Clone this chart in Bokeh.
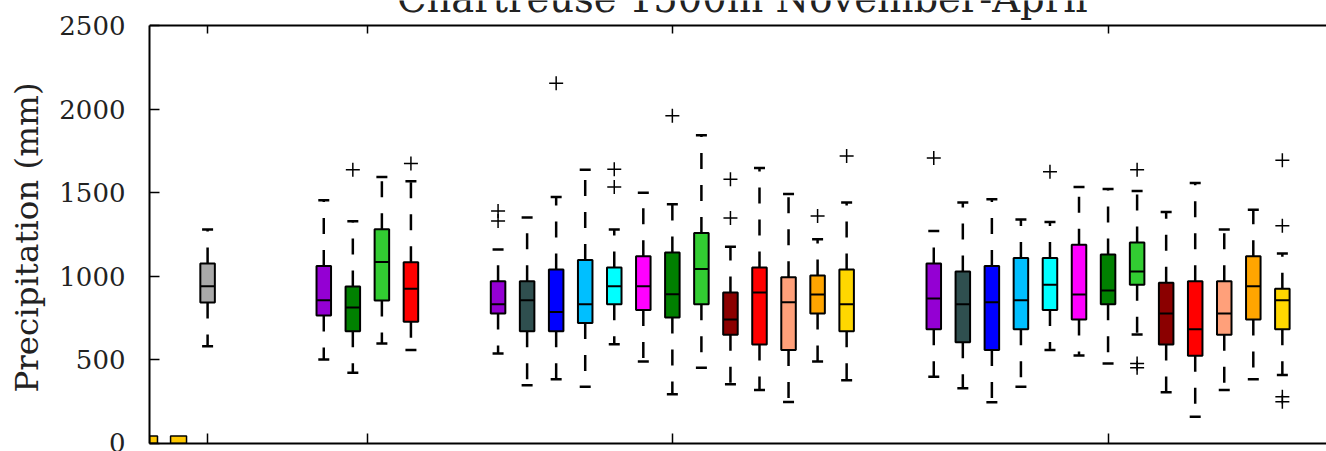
import numpy as np
from bokeh.plotting import figure
from bokeh.models import Range1d, LinearAxis, FixedTicker, Label, CustomLabelingPolicy
from bokeh.embed import file_html
from bokeh.resources import INLINE

title_text = "Chartreuse 1500m November-April"
y_label = "Precipitation (mm)"

positions = [2, 6, 7, 8, 9,
             12, 13, 14, 15, 16, 17, 18, 19, 20, 21, 22, 23, 24,
             27, 28, 29, 30, 31, 32, 33, 34, 35, 36, 37, 38, 39]
group_colors = ["darkviolet", "darkslategray", "blue", "deepskyblue", "cyan",
                "magenta", "green", "limegreen", "darkred", "red",
                "lightsalmon", "orange", "gold"]
colors = ["darkgray", "darkviolet", "green", "limegreen", "red"] + group_colors + group_colors

lower = [582, 503, 423, 598, 559,
         539, 349, 385, 339, 594, 491, 294, 453, 354, 320, 248, 491, 379,
         399, 330, 246, 339, 559, 527, 479, 652, 306, 160, 320, 385, 409]
q1 = [843, 766, 672, 855, 728,
      778, 672, 672, 720, 833, 799, 754, 833, 650, 592, 559, 778, 672,
      684, 605, 559, 684, 799, 742, 833, 949, 592, 525, 650, 742, 684]
median = [941, 857, 814, 1086, 925,
          833, 857, 787, 833, 941, 941, 893, 1044, 742, 903, 845, 891, 833,
          867, 833, 845, 857, 949, 891, 915, 1029, 778, 684, 778, 941, 857]
q3 = [1076, 1062, 939, 1281, 1084,
      971, 971, 1041, 1098, 1053, 1120, 1142, 1259, 903, 1053, 995, 1005, 1041,
      1076, 1029, 1062, 1110, 1110, 1188, 1130, 1202, 961, 971, 971, 1120, 925]
upper = [1280, 1455, 1329, 1594, 1568,
         1160, 1351, 1474, 1638, 1280, 1500, 1431, 1843, 1176, 1648, 1492, 1222, 1441,
         1271, 1441, 1461, 1339, 1325, 1534, 1522, 1510, 1385, 1558, 1280, 1398, 1136]

flier_pos = [7, 9, 12, 12, 14, 16, 16, 18, 20, 20, 23, 24,
             27, 31, 34, 34, 34, 39, 39, 39, 39]
flier_val = [1638, 1674, 1391, 1331, 2155, 1640, 1534, 1960, 1580, 1349, 1361, 1719,
             1707, 1626, 1638, 479, 453, 1694, 1303, 280, 250]

small_pos = [0, 1]
small_top = [45, 45]

x_ticks = [2, 7.5, 18, 33]
y_ticks = [0, 500, 1000, 1500, 2000, 2500]
y_max = 2500

FONT = "DejaVu Serif"
PX_PER_MM = 418.0 / y_max

p = figure(width=1326, height=451,
           x_range=Range1d(0, 40.52),
           y_range=Range1d(0, y_max + 25 / PX_PER_MM),
           output_backend="svg", toolbar_location=None,
           x_axis_location=None, y_axis_location=None,
           min_border_left=149, min_border_right=0,
           min_border_top=0, min_border_bottom=8)
p.outline_line_color = None
p.background_fill_color = "white"
p.border_fill_color = "white"
p.xgrid.visible = False
p.ygrid.visible = False

# axes (label padded at its end so that it centres on the 0-2500 span)
left = LinearAxis(ticker=FixedTicker(ticks=y_ticks),
                  axis_label=y_label + "\u00a0\u00a0\u00a0",
                  bounds=(0, y_max))
left.major_tick_in = 10
left.major_tick_out = 0
left.minor_tick_line_color = None
left.axis_line_width = 2
left.major_tick_line_width = 1.5
left.major_label_text_font = FONT
left.major_label_text_font_size = "26px"
left.major_label_text_color = "#222222"
left.major_label_standoff = 24
left.axis_label_text_font = FONT
left.axis_label_text_font_size = "32.5px"
left.axis_label_text_font_style = "normal"
left.axis_label_text_color = "#222222"
left.axis_label_standoff = 10
p.add_layout(left, "left")

hide_labels = CustomLabelingPolicy(
    code="for (const i of Array.from(indices.ones())) { indices.unset(i) } return indices")

for loc, tin in (("below", 10), ("above", 8)):
    ax = LinearAxis(ticker=FixedTicker(ticks=x_ticks))
    ax.major_tick_in = tin
    ax.major_tick_out = 0
    ax.minor_tick_line_color = None
    ax.axis_line_width = 2
    ax.major_tick_line_width = 1.5
    ax.major_label_policy = hide_labels
    ax.major_label_text_font_size = "1px"
    ax.major_label_standoff = 0
    if loc == "above":
        ax.fixed_location = y_max
    p.add_layout(ax, loc)

# whiskers
p.segment(x0=positions, y0=q3, x1=positions, y1=upper,
          line_color="black", line_width=2.5, line_dash="16 16")
p.segment(x0=positions, y0=q1, x1=positions, y1=lower,
          line_color="black", line_width=2.5, line_dash="16 16")
# caps
p.scatter(x=positions + positions, y=upper + lower, marker="dash", size=11,
          line_color="black", line_width=2.5)
# boxes
p.vbar(x=positions, width=0.5, bottom=q1, top=q3, fill_color=colors,
       line_color="black", line_width=2)
# medians
pos_arr = np.array(positions, dtype=float)
p.segment(x0=pos_arr - 0.25, y0=median, x1=pos_arr + 0.25, y1=median,
          line_color="black", line_width=2)
# fliers
p.scatter(x=flier_pos, y=flier_val, marker="cross", size=14,
          line_color="black", line_width=1.5)
# small boxes near zero
p.vbar(x=small_pos, width=0.55, bottom=0, top=small_top, fill_color="#ffc800",
       line_color="black", line_width=1.5)

title = Label(x=20.41, y=y_max + 27 / PX_PER_MM, text=title_text,
              text_align="center", text_baseline="alphabetic",
              text_font=FONT, text_font_size="38.5px", text_color="#222222")
p.add_layout(title)

open("out.html", "w").write(file_html(p, INLINE))
